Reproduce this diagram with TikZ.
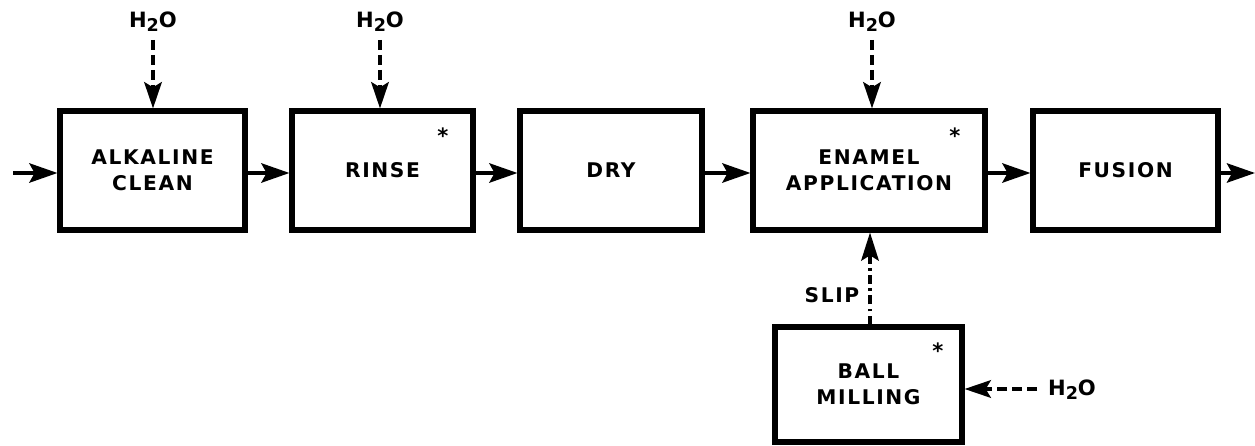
\documentclass[tikz,border=0pt]{standalone}
\usepackage{fontspec}
\setmainfont{DejaVu Sans}
\newfontfamily\lblfont{DejaVu Sans}[LetterSpace=8]
\newfontfamily\wfont{DejaVu Sans}
\usetikzlibrary{arrows.meta}
\newcommand{\lbl}{\lblfont\bfseries\fontsize{11.5}{14.5}\selectfont}
\newcommand{\water}{\wfont\bfseries\fontsize{12}{12}\selectfont H\raisebox{-0.35ex}{\fontsize{10}{10}\selectfont 2}O}
\tikzset{
  stepbox/.style={draw, line width=2.9pt, minimum height=2.38cm, inner sep=0pt, align=center, font=\lbl},
  flow/.style={line width=2.1pt, -{Stealth[length=16pt,width=11pt,inset=3pt]}},
  wline/.style={line width=2pt, dash pattern=on 5.5pt off 3pt, -{Stealth[length=15pt,width=10pt,inset=3pt]}},
  slipline/.style={line width=2pt, dash pattern=on 5pt off 2.5pt on 1.5pt off 2.5pt, -{Stealth[length=16pt,width=10pt,inset=3pt]}},
  wlabel/.style={inner sep=1pt},
  starmark/.style={font=\bfseries\fontsize{12}{12}\selectfont, inner sep=0pt},
}
\begin{document}
\begin{tikzpicture}[x=0.02cm, y=0.02cm]
  \useasboundingbox (0,0) rectangle (1255,-446);
  % boxes
  \node[stepbox, minimum width=3.70cm] (clean) at (152.5,-170.5) {ALKALINE\\CLEAN};
  \node[stepbox, minimum width=3.62cm] (rinse) at (382.5,-170.5) {RINSE};
  \node[stepbox, minimum width=3.64cm] (dry) at (611,-170.5) {DRY};
  \node[stepbox, minimum width=4.64cm] (enamel) at (869,-170.5) {ENAMEL\\APPLICATION};
  \node[stepbox, minimum width=3.70cm] (fusion) at (1125.5,-170.5) {FUSION};
  \node[stepbox, minimum width=3.74cm, minimum height=2.30cm] (ball) at (868.5,-384.5) {BALL\\MILLING};
  % stars
  \node[starmark] (s1) at (443,-136) {*};
  \node[starmark] (s2) at (955,-136) {*};
  \node[starmark] (s3) at (938,-351) {*};
  % water labels
  \node[wlabel] (w1) at (153,-22) {\water};
  \node[wlabel] (w2) at (380,-22) {\water};
  \node[wlabel] (w3) at (872,-22) {\water};
  \node[wlabel, anchor=west] (w4) at (1046,-390) {\water};
  \node[wlabel, font=\lbl] (slip) at (832,-295) {SLIP};
  % free ends
  \coordinate (in) at (13,-173);
  \coordinate (out) at (1255,-173);
  \coordinate (w1s) at (153,-40);
  \coordinate (w2s) at (380,-40);
  \coordinate (w3s) at (872,-40);
  \coordinate (w4s) at (1037,-389);
  % main flow
  \draw[flow] (in) -- (clean.west |- in);
  \draw[flow] (clean.east |- in) -- (rinse.west |- in);
  \draw[flow] (rinse.east |- in) -- (dry.west |- in);
  \draw[flow] (dry.east |- in) -- (enamel.west |- in);
  \draw[flow] (enamel.east |- in) -- (fusion.west |- in);
  \draw[flow] (fusion.east |- in) -- (out);
  % water inputs
  \draw[wline] (w1s) -- (w1s |- clean.north);
  \draw[wline] (w2s) -- (w2s |- rinse.north);
  \draw[wline] (w3s) -- (w3s |- enamel.north);
  \draw[wline] (w4s) -- (ball.east |- w4s);
  % slip
  \coordinate (slipfrom) at (870,-327);
  \draw[slipline] (slipfrom |- ball.north) -- (slipfrom |- enamel.south);
\end{tikzpicture}
\end{document}
